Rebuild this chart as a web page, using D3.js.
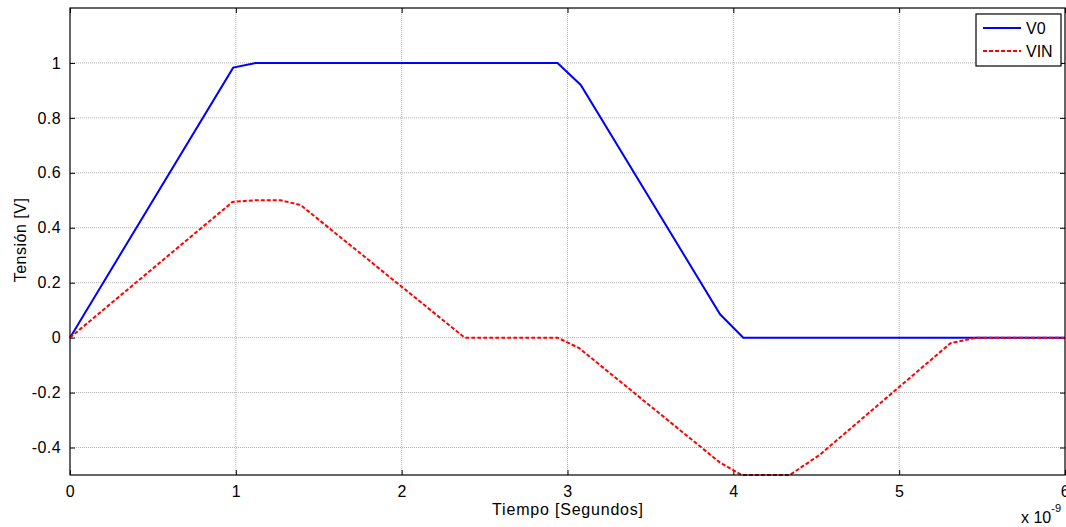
<!DOCTYPE html>
<html>
<head>
<meta charset="utf-8">
<script src="https://cdn.jsdelivr.net/npm/d3@7"></script>
<style>
  body { margin: 0; background: #fff; }
  svg { font-family: "Liberation Sans", Arial, sans-serif; }
  .grid line { stroke: #b0b0b0; stroke-dasharray: 1,1; }
  .tick text { font-size: 16px; fill: #000; letter-spacing: 0.4px; }
</style>
</head>
<body>
<div id="chart"></div>
<script>
// time in units of 1e-9 s
var v0Time = [0, 0.984, 1.12, 2.94, 3.08, 3.92, 4.06, 6];
var v0Vals = [0, 0.983, 1.0, 1.0, 0.92, 0.085, 0, 0];

var vinTime = [0, 0.98, 1.11, 1.27, 1.39, 2.38, 2.94, 3.07, 3.92, 4.05, 4.34, 4.52, 5.31, 5.47, 6];
var vinVals = [0, 0.494, 0.5, 0.5, 0.483, 0, 0, -0.038, -0.455, -0.5, -0.5, -0.427, -0.02, 0, 0];

var xTicks = [0, 1, 2, 3, 4, 5, 6];
var yTicks = [-0.4, -0.2, 0, 0.2, 0.4, 0.6, 0.8, 1];

var W = 1066, H = 527,
    margin = {top: 8, right: 1, bottom: 52, left: 70},
    w = W - margin.left - margin.right,
    h = H - margin.top - margin.bottom;

var main = d3.select("#chart").append("svg")
    .attr("width", W)
    .attr("height", H),
    svg = main.append("g")
    .attr("transform", "translate(" + margin.left + "," + margin.top + ")");

var x = d3.scaleLinear().domain([0, 6]).range([0, w]);
var y = d3.scaleLinear().domain([-0.5, 1.2]).range([h, 0]);

// grid
var grid = svg.append("g").attr("class", "grid");
grid.selectAll(".gx").data(xTicks.slice(1, -1)).enter().append("line")
    .attr("x1", d => x(d)).attr("x2", d => x(d))
    .attr("y1", 0).attr("y2", h);
grid.selectAll(".gy").data(yTicks).enter().append("line")
    .attr("x1", 0).attr("x2", w)
    .attr("y1", d => y(d)).attr("y2", d => y(d));

// axes with inward ticks, matlab style hyphen minus
var fmt = function(d) { return String(+d.toFixed(1)); };
svg.append("g")
    .attr("transform", "translate(0," + h + ")")
    .call(d3.axisBottom(x).tickValues(xTicks).tickSizeInner(-5).tickSizeOuter(0).tickPadding(11).tickFormat(fmt))
    .call(g => g.select(".domain").remove());
svg.append("g")
    .call(d3.axisTop(x).tickValues(xTicks).tickSizeInner(-5).tickSizeOuter(0).tickFormat(""))
    .call(g => g.select(".domain").remove());
svg.append("g")
    .call(d3.axisLeft(y).tickValues(yTicks).tickSizeInner(-5).tickSizeOuter(0).tickPadding(9).tickFormat(fmt))
    .call(g => g.select(".domain").remove());
svg.append("g")
    .attr("transform", "translate(" + w + ",0)")
    .call(d3.axisRight(y).tickValues(yTicks).tickSizeInner(-5).tickSizeOuter(0).tickFormat(""))
    .call(g => g.select(".domain").remove());
svg.selectAll(".tick line").attr("stroke", "#000");

// lines
var v0 = v0Time.map((t, i) => ({t: t, v: v0Vals[i]}));
var vin = vinTime.map((t, i) => ({t: t, v: vinVals[i]}));
var line = d3.line().x(d => x(d.t)).y(d => y(d.v));

svg.append("path").datum(v0)
    .attr("fill", "none").attr("stroke", "#0000ff").attr("stroke-width", 2)
    .attr("d", line);
svg.append("path").datum(vin)
    .attr("fill", "none").attr("stroke", "#ff0000").attr("stroke-width", 2)
    .attr("stroke-dasharray", "4,2")
    .attr("d", line);

// box
svg.append("rect")
    .attr("x", 0).attr("y", 0).attr("width", w).attr("height", h)
    .attr("fill", "none").attr("stroke", "#000").attr("stroke-width", 1.2);

// legend
var leg = main.append("g").attr("transform", "translate(976,14)");
leg.append("rect").attr("width", 85).attr("height", 52)
    .attr("fill", "#fff").attr("stroke", "#000").attr("stroke-width", 1.2);
leg.append("line").attr("x1", 7).attr("x2", 45).attr("y1", 14).attr("y2", 14)
    .attr("stroke", "#0000ff").attr("stroke-width", 2);
leg.append("line").attr("x1", 7).attr("x2", 45).attr("y1", 37).attr("y2", 37)
    .attr("stroke", "#ff0000").attr("stroke-width", 2).attr("stroke-dasharray", "4,2");
leg.append("text").attr("x", 50).attr("y", 20).attr("font-size", 16).text("V0");
leg.append("text").attr("x", 50).attr("y", 43).attr("font-size", 16).text("VIN");

// labels
main.append("text")
    .attr("x", 568).attr("y", 515)
    .attr("text-anchor", "middle").attr("font-size", 16).attr("letter-spacing", 0.8)
    .text("Tiempo [Segundos]");
main.append("text")
    .attr("transform", "translate(26," + 240 + ") rotate(-90)")
    .attr("text-anchor", "middle").attr("font-size", 16).attr("letter-spacing", 0.5)
    .text("Tensión [V]");
var ex = main.append("text").attr("x", 1021).attr("y", 523).attr("font-size", 16);
ex.append("tspan").text("x 10");
ex.append("tspan").attr("dy", -11).attr("font-size", 11).text("-9");
</script>
</body>
</html>
